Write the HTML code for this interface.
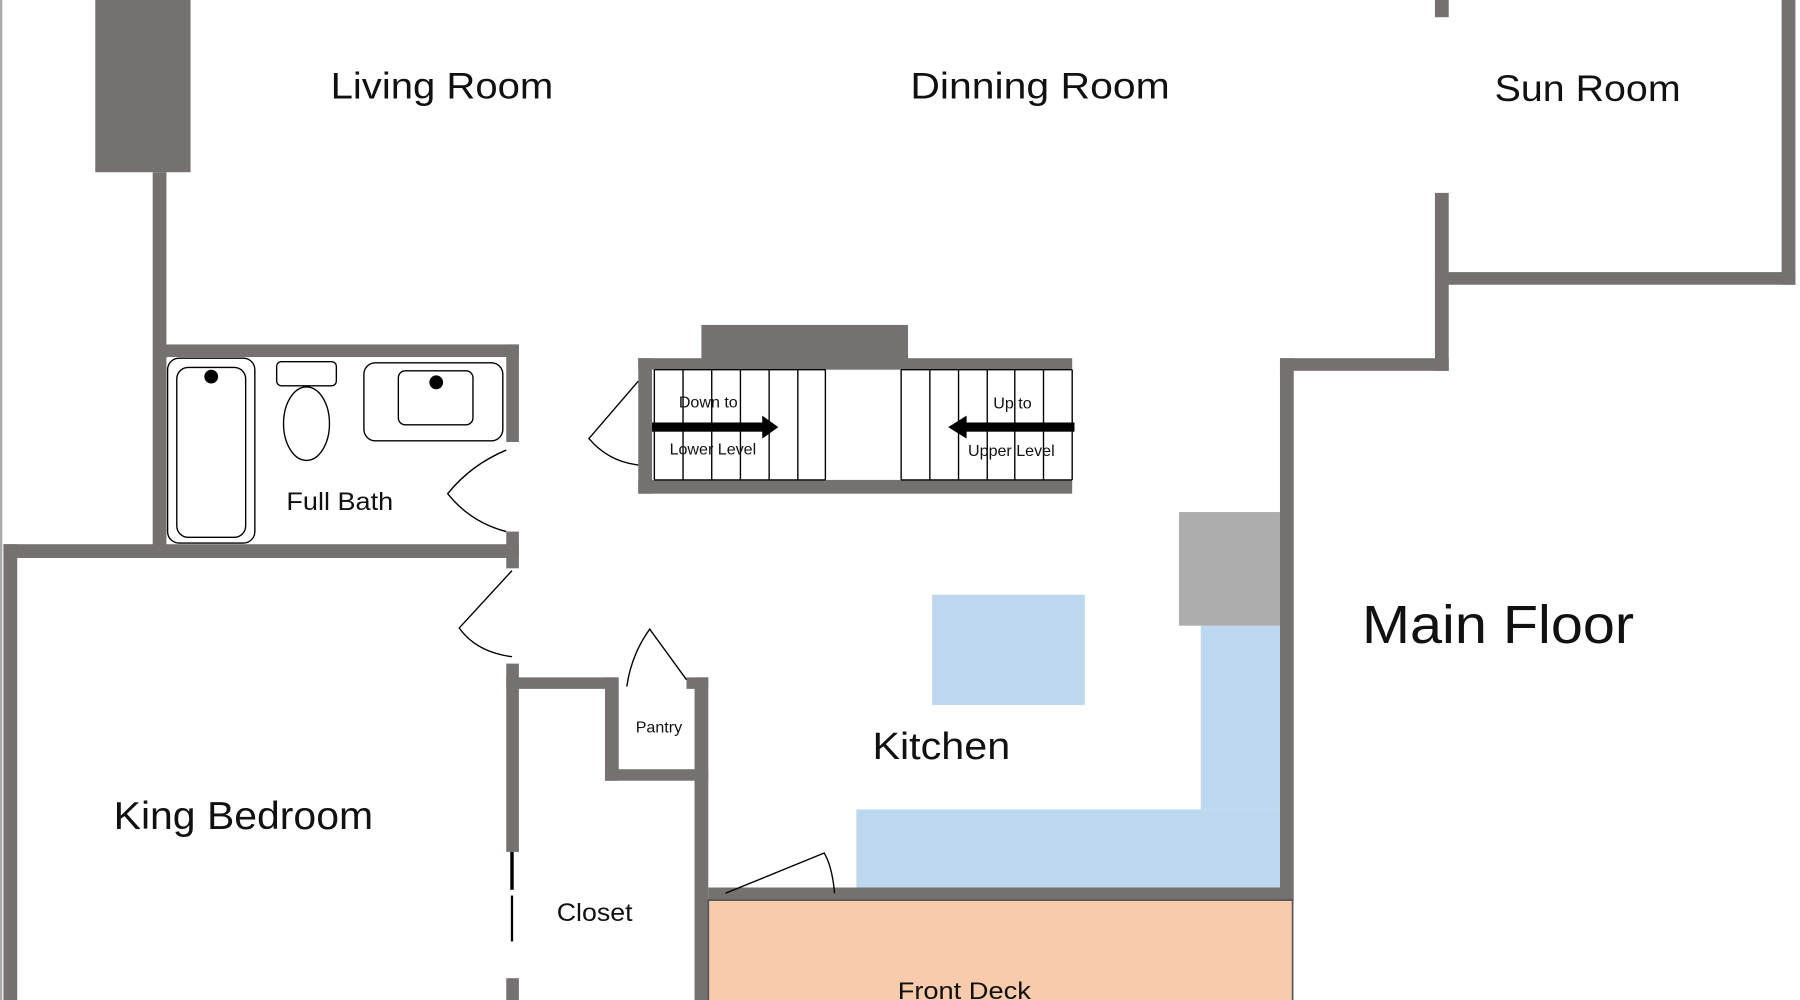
<!DOCTYPE html>
<html><head><meta charset="utf-8"><style>
html,body{margin:0;padding:0;background:#fff;width:1800px;height:1000px;overflow:hidden}
svg{display:block}
text{font-family:"Liberation Sans",sans-serif;fill:#111}
</style></head><body>
<svg width="1800" height="1000" viewBox="0 0 1568 871" preserveAspectRatio="none" xmlns="http://www.w3.org/2000/svg">
<rect x="0" y="0" width="1568" height="871" fill="#fff"/>
<rect x="0" y="0" width="2" height="871" fill="#aaa"/>
<g fill="#767171">
<rect x="83" y="0" width="83" height="150"/>
<rect x="133" y="150" width="12" height="330"/>
<rect x="140" y="300" width="312" height="11"/>
<rect x="441" y="300" width="11" height="85"/>
<rect x="441" y="463" width="11" height="32"/>
<rect x="3" y="474" width="449" height="12"/>
<rect x="3" y="474" width="12" height="397"/>
<rect x="441" y="578" width="11" height="164"/>
<rect x="441" y="852" width="11" height="19"/>
<rect x="441" y="590" width="96" height="10"/>
<rect x="527" y="590" width="12" height="90"/>
<rect x="527" y="670" width="90" height="10"/>
<rect x="598" y="590" width="19" height="10"/>
<rect x="605" y="590" width="12" height="281"/>
<rect x="617" y="773" width="509" height="11"/>
<rect x="1115" y="312" width="12" height="472"/>
<rect x="1115" y="312" width="147" height="11"/>
<rect x="1250" y="168" width="12" height="155"/>
<rect x="1250" y="0" width="12" height="15"/>
<rect x="1250" y="237" width="314" height="11"/>
<rect x="1552" y="0" width="12" height="248"/>
<rect x="556" y="312" width="378" height="10"/>
<rect x="556" y="312" width="12" height="118"/>
<rect x="556" y="418" width="378" height="12"/>
<rect x="611" y="283" width="180" height="30"/>
</g>
<line x1="446" y1="742" x2="446" y2="775" stroke="#000" stroke-width="3"/>
<line x1="446" y1="780" x2="446" y2="820" stroke="#000" stroke-width="2"/>
<rect x="617" y="784" width="509" height="90" fill="#F8CBAD" stroke="#555" stroke-width="1.5"/>
<g fill="#BDD7EE">
<rect x="746" y="705" width="369" height="68"/>
<rect x="1046" y="545" width="69" height="160"/>
<rect x="812" y="518" width="133" height="96"/>
</g>
<rect x="1027" y="446" width="88" height="99" fill="#ADADAD"/>
<g stroke="#000" stroke-width="1.2" fill="none">
<line x1="570" y1="322" x2="570" y2="418"/><line x1="595" y1="322" x2="595" y2="418"/>
<line x1="620" y1="322" x2="620" y2="418"/><line x1="645" y1="322" x2="645" y2="418"/>
<line x1="670" y1="322" x2="670" y2="418"/><line x1="695" y1="322" x2="695" y2="418"/>
<line x1="719" y1="322" x2="719" y2="418"/>
<line x1="785" y1="322" x2="785" y2="418"/><line x1="810" y1="322" x2="810" y2="418"/>
<line x1="835" y1="322" x2="835" y2="418"/><line x1="860" y1="322" x2="860" y2="418"/>
<line x1="884" y1="322" x2="884" y2="418"/><line x1="909" y1="322" x2="909" y2="418"/>
<line x1="934" y1="322" x2="934" y2="418"/>
<line x1="570" y1="322" x2="719" y2="322"/><line x1="570" y1="418" x2="719" y2="418"/>
<line x1="785" y1="322" x2="934" y2="322"/><line x1="785" y1="418" x2="934" y2="418"/>
<path d="M556 332 L513 382 Q530 402 556 405"/>
<path d="M441 392 Q410 405 390 430 Q410 455 441 463"/>
<path d="M446 497 L400 547 Q415 568 446 572"/>
<path d="M546 598 Q550 570 566 548 L598 592"/>
<path d="M632 778 L718 743 Q725 755 727 778"/>
<rect x="146" y="312" width="76" height="161" rx="10"/>
<rect x="154" y="320" width="60" height="148" rx="10"/>
<rect x="241" y="315" width="52" height="21" rx="4"/>
<ellipse cx="267" cy="369" rx="20" ry="32"/>
<rect x="317" y="316" width="121" height="68" rx="10"/>
<rect x="347" y="323" width="65" height="47" rx="6"/>
</g>
<rect x="568" y="368" width="98" height="8" fill="#000"/>
<polygon points="664,362 678,372 664,382" fill="#000"/>
<rect x="840" y="368" width="96" height="8" fill="#000"/>
<polygon points="842,362 826,372 842,382" fill="#000"/>
<circle cx="184" cy="328" r="6" fill="#000"/>
<circle cx="380" cy="333" r="6" fill="#000"/>
<g text-anchor="middle" lengthAdjust="spacingAndGlyphs">
<text x="385" y="86" font-size="32" textLength="194" lengthAdjust="spacingAndGlyphs">Living Room</text>
<text x="906" y="86" font-size="32" textLength="226" lengthAdjust="spacingAndGlyphs">Dinning Room</text>
<text x="1383" y="88" font-size="32" textLength="162" lengthAdjust="spacingAndGlyphs">Sun Room</text>
<text x="296" y="444" font-size="22" textLength="93" lengthAdjust="spacingAndGlyphs">Full Bath</text>
<text x="212" y="722" font-size="34" textLength="226" lengthAdjust="spacingAndGlyphs">King Bedroom</text>
<text x="820" y="661" font-size="33" textLength="120" lengthAdjust="spacingAndGlyphs">Kitchen</text>
<text x="518" y="802" font-size="22" textLength="66" lengthAdjust="spacingAndGlyphs">Closet</text>
<text x="574" y="638" font-size="14">Pantry</text>
<text x="1305" y="560" font-size="47" textLength="237" lengthAdjust="spacingAndGlyphs">Main Floor</text>
<text x="840" y="870" font-size="21" textLength="116" lengthAdjust="spacingAndGlyphs">Front Deck</text>
<text x="617" y="355" font-size="14">Down to</text>
<text x="621" y="396" font-size="14">Lower Level</text>
<text x="882" y="356" font-size="14">Up to</text>
<text x="881" y="397" font-size="14">Upper Level</text>
</g>
</svg>
</body></html>
